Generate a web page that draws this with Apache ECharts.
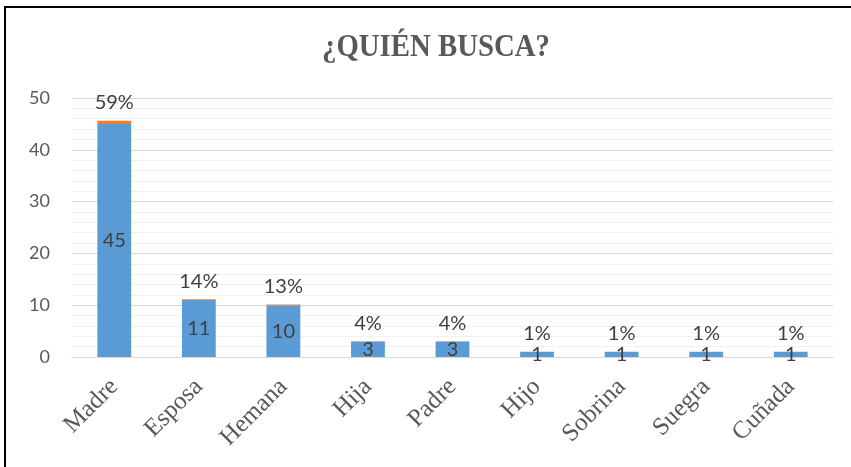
<!DOCTYPE html>
<html><head><meta charset="utf-8">
<script src="https://cdn.jsdelivr.net/npm/echarts@6/dist/echarts.min.js"></script>
<style>html,body{margin:0;padding:0;background:#fff}#c{width:851px;height:467px}</style>
</head><body><div id="c"></div>
<script>
const categories = ['Madre','Esposa','Hemana','Hija','Padre','Hijo','Sobrina','Suegra','Cuñada'];
const counts = [45, 11, 10, 3, 3, 1, 1, 1, 1];
const shares = [0.59, 0.14, 0.13, 0.04, 0.04, 0.01, 0.01, 0.01, 0.01];
const yTicks = [0, 10, 20, 30, 40, 50];
const titleText = '¿QUIÉN BUSCA?';

const chart = echarts.init(document.getElementById('c'));
chart.setOption({
  animation: false,
  backgroundColor: '#fff',
  graphic: [
    {type: 'rect', shape: {x: 5, y: 7, width: 900, height: 500},
     style: {fill: 'none', stroke: '#000', lineWidth: 2}, silent: true},
    {type: 'text', x: 436, y: 48, scaleX: 0.9, originX: 0, originY: 0,
     style: {text: titleText, fontFamily: 'Liberation Serif', fontWeight: 'bold', fontSize: 32,
       fill: '#595959', align: 'center', verticalAlign: 'middle'}, silent: true}
  ],
  grid: {left: 72, right: 18, top: 98, bottom: 110},
  xAxis: {
    type: 'category', data: categories,
    axisLine: {lineStyle: {color: '#d9d9d9', width: 1}},
    axisTick: {show: false},
    axisLabel: {rotate: 45, fontFamily: 'Liberation Serif', fontSize: 25, color: '#595959', margin: 26}
  },
  yAxis: {
    type: 'value', min: 0, max: yTicks[yTicks.length - 1], interval: 10,
    axisLabel: {fontFamily: 'Lato', fontSize: 18, color: '#595959', margin: 22},
    splitLine: {lineStyle: {color: '#d9d9d9', width: 1}},
    minorTick: {show: false, splitNumber: 5},
    minorSplitLine: {show: true, lineStyle: {color: '#f0f0f0', width: 1}}
  },
  series: [
    {type: 'bar', stack: 's', data: counts, barWidth: '40%',
     itemStyle: {color: '#5b9bd5'},
     label: {show: true, position: 'inside', fontFamily: 'Lato', fontSize: 20, color: '#404040'}},
    {type: 'bar', stack: 's', data: shares, barWidth: '40%',
     itemStyle: {color: '#ed7d31'},
     label: {show: true, position: 'top', distance: 8, fontFamily: 'Lato', fontSize: 20, color: '#404040',
       formatter: p => Math.round(p.value * 100) + '%'}}
  ]
});
</script></body></html>
